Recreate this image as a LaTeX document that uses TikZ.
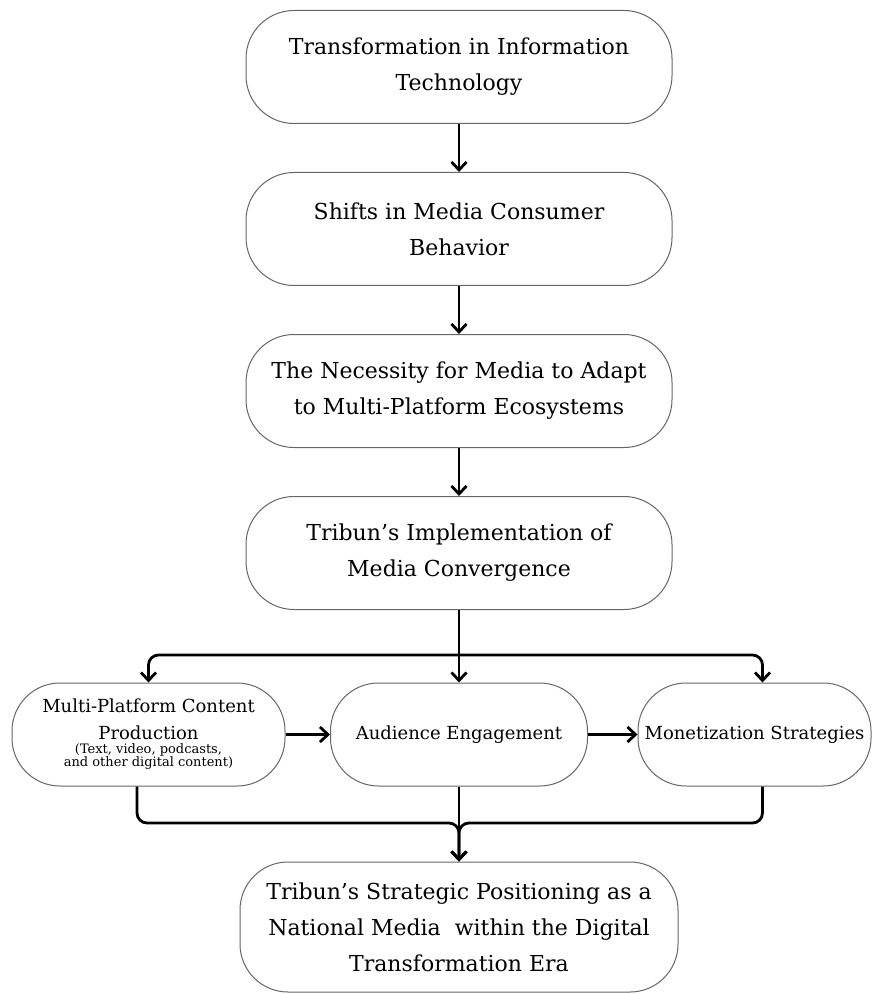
\documentclass[tikz,border=0pt]{standalone}
\usepackage{fontspec}
\setmainfont{DejaVu Serif}
\usetikzlibrary{arrows.meta}

\begin{document}
\begin{tikzpicture}[x=0.5pt, y=-0.5pt,
        box/.style={draw=black!60, line width=0.5pt, rounded corners=24pt,
            align=center, inner sep=0pt},
        bigbox/.style={box, minimum width=213pt, minimum height=56.5pt,
            font=\fontsize{11}{18}\selectfont},
        rowbox/.style={box, minimum height=51.5pt, font=\fontsize{9}{13.5}\selectfont},
        flow/.style={line width=1.4pt, rounded corners=5pt,
            -{Straight Barb[length=4pt, width=7.5pt]}}]
        \def\colx{459}
        \useasboundingbox (0, 0) rectangle (873, 994);

        \node[bigbox] (tech) at (\colx, 67) {Transformation in Information\\Technology};
        \node[bigbox] (behav) at (\colx, 229) {Shifts in Media Consumer\\Behavior};
        \node[bigbox] (adapt) at (\colx, 391) {The Necessity for Media to Adapt\\to Multi-Platform Ecosystems};
        \node[bigbox] (conv) at (\colx, 553) {Tribun’s Implementation of\\Media Convergence};

        \node[rowbox, minimum width=136.5pt] (prod) at (148.5, 734.5)
            {Multi-Platform Content\\Production\\[-3pt]
             {\fontsize{6.5}{6}\selectfont\begin{tabular}{@{}c@{}}(Text, video, podcasts,\\and other digital content)\end{tabular}}};
        \node[rowbox, minimum width=128.5pt] (aud) at (\colx, 734.5) {Audience Engagement};
        \node[rowbox, minimum width=116.5pt] (money) at (754.5, 734.5) {Monetization Strategies};

        \node[bigbox, minimum width=219pt, minimum height=65pt] (pos) at (\colx, 927)
            {Tribun’s Strategic Positioning as a\\National Media~ within the Digital\\Transformation Era};

        \coordinate (split) at (\colx, 655);
        \coordinate (join) at (\colx, 823);

        \draw[flow] (tech) -- (behav);
        \draw[flow] (behav) -- (adapt);
        \draw[flow] (adapt) -- (conv);
        \draw[flow] (conv) -- (aud);
        \draw[flow] (split) -| (prod.north);
        \draw[flow] (split) -| ([xshift=4pt]money.north);
        \draw[flow] (prod) -- (aud);
        \draw[flow] (aud) -- (money);

        \draw[flow] ([xshift=-5.75pt]prod.south) |- (join) -- (pos);
        \draw[flow] ([xshift=4pt]money.south) |- (join) -- (pos);
        \draw[flow] (aud) -- (pos);
    \end{tikzpicture}
\end{document}
